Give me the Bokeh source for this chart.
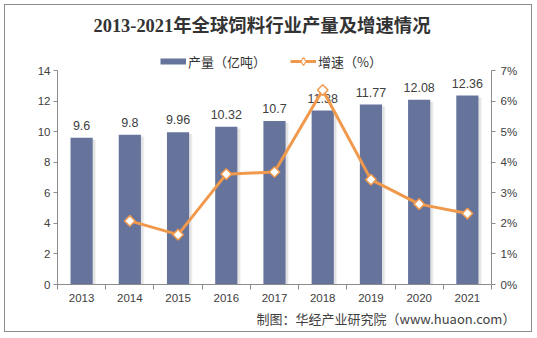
from bokeh.plotting import figure
from bokeh.models import (Range1d, LinearAxis, FixedTicker, PrintfTickFormatter, Title,
                          Legend, LegendItem, ColumnDataSource, LabelSet)
from bokeh.core.properties import value
from bokeh.embed import file_html
from bokeh.resources import INLINE
import math

# ---- data ----
years = ["2013", "2014", "2015", "2016", "2017", "2018", "2019", "2020", "2021"]
output = [9.6, 9.8, 9.96, 10.32, 10.7, 11.38, 11.77, 12.08, 12.36]
output_labels = ["9.6", "9.8", "9.96", "10.32", "10.7", "11.38", "11.77", "12.08", "12.36"]
growth_years = ["2014", "2015", "2016", "2017", "2018", "2019", "2020", "2021"]
growth = [2.08, 1.63, 3.61, 3.68, 6.36, 3.43, 2.63, 2.32]
left_ticks = [0, 2, 4, 6, 8, 10, 12, 14]
right_ticks = [0, 1, 2, 3, 4, 5, 6, 7]

title_text = "2013-2021年全球饲料行业产量及增速情况"
source_text = "制图：华经产业研究院（www.huaon.com）"

BAR = "#66739B"
ORANGE = "#F0994D"
AXIS = "#8C8C8C"
TXT = "#404040"
LATIN = "Liberation Sans"
CJK = "Noto Sans CJK SC"
NAN = float("nan")

# layout: frame is 244 px tall, the 0..14 axis occupies the lower 214 px
STRETCH = 244 / 214

pos = {y: i + 1 for i, y in enumerate(years)}
xs = [pos[y] for y in years]
gx = [pos[y] for y in growth_years]

p = figure(width=528, height=328, x_range=Range1d(0.5, len(years) + 0.5),
           y_range=Range1d(left_ticks[0], left_ticks[-1] * STRETCH),
           output_backend="svg", toolbar_location=None,
           min_border_left=52, min_border_right=42, min_border_top=35, min_border_bottom=49)
p.styles = {"border": "1px solid #8C8C8C", "margin-left": "4px", "margin-top": "4px"}
p.extra_y_ranges = {"pct": Range1d(right_ticks[0], right_ticks[-1] * STRETCH)}
p.xgrid.visible = False
p.ygrid.visible = False
p.outline_line_color = None
p.background_fill_color = "white"
p.border_fill_color = "white"

# x axis
xa = p.xaxis[0]
xa.ticker = FixedTicker(ticks=xs, minor_ticks=[x - 0.5 for x in xs] + [xs[-1] + 0.5])
xa.major_label_overrides = {pos[y]: y for y in years}
xa.major_tick_out = 0
xa.major_tick_in = 0
xa.minor_tick_out = 5
xa.minor_tick_in = 0
xa.minor_tick_line_color = AXIS
xa.axis_line_color = AXIS
xa.major_label_standoff = 4
xa.major_label_text_font = LATIN
xa.major_label_text_font_size = "11.5px"
xa.major_label_text_color = TXT

# left axis
ya = p.yaxis[0]
ya.ticker = FixedTicker(ticks=left_ticks, minor_ticks=[])
ya.bounds = (left_ticks[0], left_ticks[-1])
ya.major_tick_out = 4
ya.major_tick_in = 0
ya.minor_tick_out = 0
ya.major_tick_line_color = AXIS
ya.axis_line_color = AXIS
ya.major_label_standoff = 3
ya.major_label_text_font = LATIN
ya.major_label_text_font_size = "11.5px"
ya.major_label_text_color = TXT

# right axis
ra = LinearAxis(y_range_name="pct", ticker=FixedTicker(ticks=right_ticks, minor_ticks=[]),
                formatter=PrintfTickFormatter(format="%d%%"),
                bounds=(right_ticks[0], right_ticks[-1]))
ra.major_tick_out = 4
ra.major_tick_in = 0
ra.minor_tick_out = 0
ra.major_tick_line_color = AXIS
ra.axis_line_color = AXIS
ra.major_label_standoff = 5
ra.major_label_text_font = LATIN
ra.major_label_text_font_size = "11.5px"
ra.major_label_text_color = TXT
p.add_layout(ra, "right")

src = ColumnDataSource(dict(x=xs, top=output, label=output_labels,
                            sx=[x + 0.05 for x in xs], stop=[t - 0.12 for t in output]))

# soft shadow of bars
p.vbar(x="sx", top="stop", width=0.46, source=src, fill_color="#9a9a9a", fill_alpha=0.18, line_color=None)
p.vbar(x="sx", top="stop", width=0.5, source=src, fill_color="#9a9a9a", fill_alpha=0.10, line_color=None)
bars = p.vbar(x="x", top="top", width=0.46, source=src, fill_color=BAR, line_color=None)

labels = LabelSet(x="x", y="top", text="label", source=src, y_offset=8,
                  text_align="center", text_baseline="alphabetic", level="underlay",
                  text_font=value(LATIN), text_font_size="12.5px", text_color=TXT)
p.add_layout(labels)

gsrc = ColumnDataSource(dict(x=gx, y=growth))
ln = p.line(x="x", y="y", source=gsrc, y_range_name="pct", line_color=ORANGE, line_width=3)
mk = p.scatter(x="x", y="y", source=gsrc, y_range_name="pct", marker="square", angle=math.pi / 4,
               size=7.5, fill_color="white", line_color=ORANGE, line_width=1.5)

# legend proxies (draw nothing in the plot area)
proxy_bar = p.line(x=[NAN], y=[NAN], line_color=BAR, line_width=6)
proxy_ln = p.line(x=[NAN], y=[NAN], line_color=ORANGE, line_width=3)
proxy_mk = p.scatter(x=[NAN], y=[NAN], marker="diamond", fill_color="white",
                     line_color=ORANGE, line_width=1.2)

legend = Legend(items=[LegendItem(label="产量（亿吨）", renderers=[proxy_bar]),
                       LegendItem(label="增速（%）", renderers=[proxy_ln, proxy_mk])],
                location=(100, 210), orientation="horizontal",
                glyph_width=26, glyph_height=20, label_standoff=2, spacing=24,
                padding=3, margin=0, border_line_alpha=0, background_fill_alpha=0,
                label_text_font=CJK, label_text_font_size="13px", label_text_color="#333333",
                label_height=14)
p.add_layout(legend, "center")

p.title = Title(text=title_text, align="left", offset=36, standoff=10,
                text_font="Liberation Serif, Noto Sans CJK SC", text_font_style="bold",
                text_font_size="18.4px", text_color="#333333")

p.add_layout(Title(text=source_text, align="left", offset=199, standoff=4,
                   text_font=CJK, text_font_style="normal",
                   text_font_size="13px", text_color=TXT), "below")

open("out.html", "w").write(file_html(p, INLINE))
